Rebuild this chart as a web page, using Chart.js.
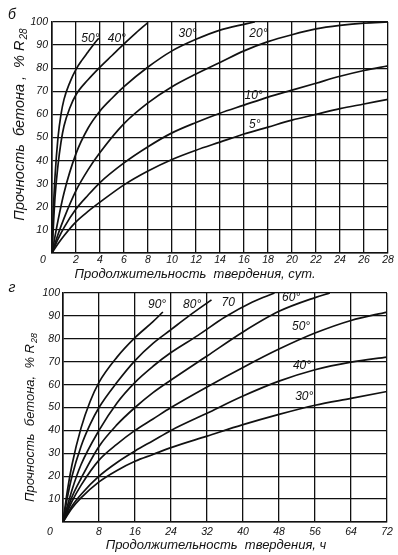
<!DOCTYPE html>
<html>
<head>
<meta charset="utf-8">
<script src="https://cdn.jsdelivr.net/npm/chart.js@4.4.1/dist/chart.umd.min.js"></script>
<style>
  html, body { margin: 0; padding: 0; background: #fff; }
  #wrap { position: relative; width: 398px; height: 555px; overflow: hidden; background: #fff; }
  canvas { position: absolute; left: 0; }
  #topChart { top: 0; }
  #bottomChart { top: 280px; }
</style>
</head>
<body>
<div id="wrap">
  <canvas id="topChart" width="398" height="280"></canvas>
  <canvas id="bottomChart" width="398" height="275"></canvas>
</div>
<script>
// Strength of concrete vs. curing time at different temperatures

// ---- top chart (б): curing time in days ----
const days50 = [0, 0.1, 0.25, 0.5, 0.75, 1, 1.5, 2, 2.5, 3, 3.5, 3.9];
const str50  = [0, 17, 33, 50, 60, 66.5, 74, 79.5, 83.5, 87, 90.5, 93];
const days40 = [0, 0.25, 0.5, 0.75, 1, 1.5, 2, 3, 4, 5, 6, 7, 8];
const str40  = [0, 24, 38, 48, 55, 63, 68.5, 75, 80.5, 85.5, 90.5, 95.3, 99.8];
const days30 = [0, 0.5, 1, 2, 3, 4, 5, 6, 8, 10, 12, 14, 16, 16.9];
const str30  = [0, 14, 26, 43, 54, 61.5, 67, 72, 80.5, 87.5, 92.5, 96.5, 99, 100];
const days20 = [0, 0.5, 1, 2, 3, 4, 6, 8, 10, 12, 14, 16, 18, 20, 22, 24, 26, 28];
const str20  = [0, 8, 15, 27, 36, 43.5, 56, 65, 72, 77.5, 82.5, 87.5, 91.5, 94.5, 97, 98.5, 99.5, 100];
const days10 = [0, 0.5, 1, 2, 3, 4, 6, 8, 10, 12, 14, 16, 18, 20, 22, 24, 26, 28];
const str10  = [0, 6, 11, 19, 25, 30.5, 39, 46, 52, 56.5, 60.5, 64, 67.5, 70.5, 73.5, 76.5, 79, 81];
const days5  = [0, 0.5, 1, 2, 3, 4, 6, 8, 10, 12, 14, 16, 18, 20, 22, 24, 26, 28];
const str5   = [0, 4, 7.5, 13.5, 18, 22, 29.5, 35.5, 40.5, 44.5, 48, 51.5, 54.5, 57.5, 60, 62.5, 64.5, 66.5];

const topLabels = ['50°', '40°', '30°', '20°', '10°', '5°'];
const topLabelDays = [3.2, 5.4, 11.3, 17.2, 16.8, 16.9];
const topLabelStr  = [93, 93, 95, 95, 68, 55.4];

// ---- bottom chart (г): curing time in hours ----
const hours90 = [0, 1, 2, 4, 6, 8, 12, 16, 20, 22.2];
const str90   = [0, 14, 25, 41, 52.5, 61, 72, 80.5, 87.5, 91.7];
const hours80 = [0, 1, 2, 4, 6, 8, 12, 16, 20, 24, 28, 33];
const str80   = [0, 11, 20, 33, 42.5, 50, 61, 70.5, 78, 84, 90, 97];
const hours70 = [0, 2, 4, 8, 12, 16, 20, 24, 30, 36, 42, 47];
const str70   = [0, 14, 25, 40, 52, 61, 68, 74, 81.5, 89.5, 96, 100];
const hours60 = [0, 2, 4, 8, 12, 16, 20, 24, 32, 40, 48, 56, 59.3];
const str60   = [0, 11, 19, 33, 42.5, 50, 56.5, 62, 72.5, 83, 92, 98, 100];
const hours50 = [0, 2, 4, 8, 12, 16, 20, 24, 32, 40, 48, 56, 64, 72];
const str50h  = [0, 9, 16, 27, 34, 40, 45, 50, 59, 67.5, 75.5, 82.5, 88, 91.7];
const hours40 = [0, 2, 4, 8, 12, 16, 20, 24, 32, 40, 48, 56, 64, 72];
const str40h  = [0, 7, 12, 20, 26, 31, 35.5, 40, 47.5, 55, 61.5, 66.5, 69.8, 72];
const hours30 = [0, 2, 4, 8, 12, 16, 20, 24, 32, 40, 48, 56, 64, 72];
const str30h  = [0, 6, 10.5, 17.5, 22.5, 26.5, 29.5, 32.5, 37.5, 42.5, 47, 51, 54, 57];

const bottomLabels = ['90°', '80°', '70', '60°', '50°', '40°', '30°'];
const bottomLabelHours = [20.9, 28.7, 36.7, 50.7, 52.9, 53.1, 53.6];
const bottomLabelStr   = [94.8, 94.8, 95.6, 97.8, 85.2, 68.1, 54.6];

// ---- texts ----
const yTitleMain = 'Прочность  бетона ,  % R';
const yTitleMainB = 'Прочность  бетона,  % R';
const yTitleSub = '28';
const xTitleTop = 'Продолжительность  твердения, сут.';
const xTitleBottom = 'Продолжительность  твердения, ч';

const INK = '#111';
const FONT = '"Liberation Sans", "DejaVu Sans", sans-serif';

function toPoints(xs, ys) {
    return xs.map((x, i) => ({ x: x, y: ys[i] }));
}

function curve(xs, ys) {
    return {
        data: toPoints(xs, ys),
        borderColor: INK,
        borderWidth: 1.7,
        pointRadius: 0,
        fill: false,
        cubicInterpolationMode: 'monotone'
    };
}

// Draws curve labels, the corner zero, axis titles and panel letter
function sketchText(cfg) {
    return {
        id: 'sketchText',
        afterDraw(chart) {
            const ctx = chart.ctx;
            const xs = chart.scales.x;
            const ys = chart.scales.y;
            ctx.save();
            ctx.fillStyle = INK;

            // curve labels
            ctx.font = 'italic 12px ' + FONT;
            ctx.textAlign = 'center';
            ctx.textBaseline = 'middle';
            cfg.labels.forEach((t, i) => {
                ctx.fillText(t, xs.getPixelForValue(cfg.labelX[i]), ys.getPixelForValue(cfg.labelY[i]));
            });

            // shared zero in the corner
            ctx.font = 'italic 10.5px ' + FONT;
            ctx.fillText('0', xs.getPixelForValue(0) + cfg.zero[0], ys.getPixelForValue(0) + cfg.zero[1]);

            // x title
            ctx.font = 'italic 13px ' + FONT;
            ctx.fillText(cfg.xTitle, cfg.xTitlePos[0], cfg.xTitlePos[1]);

            // y title, rotated, with subscript
            const big = 'italic ' + cfg.yTitleSize + 'px ' + FONT;
            const small = 'italic ' + Math.round(cfg.yTitleSize * 0.7) + 'px ' + FONT;
            ctx.translate(cfg.yTitlePos[0], cfg.yTitlePos[1]);
            ctx.rotate(-Math.PI / 2);
            ctx.font = big;
            const w1 = ctx.measureText(cfg.yTitle).width;
            ctx.font = small;
            const w2 = ctx.measureText(yTitleSub).width;
            const start = -(w1 + w2) / 2;
            ctx.textAlign = 'left';
            ctx.font = big;
            ctx.fillText(cfg.yTitle, start, 0);
            ctx.font = small;
            ctx.fillText(yTitleSub, start + w1 + 1, 4);
            ctx.setTransform(1, 0, 0, 1, 0, 0);

            // panel letter
            ctx.font = 'italic 14px ' + FONT;
            ctx.textAlign = 'center';
            ctx.fillText(cfg.letter, cfg.letterPos[0], cfg.letterPos[1]);
            ctx.restore();
        }
    };
}

function makeChart(id, datasets, xMax, xStep, box, text) {
    const ctx = document.getElementById(id).getContext('2d');
    return new Chart(ctx, {
        type: 'line',
        data: { datasets: datasets },
        options: {
            responsive: false,
            animation: false,
            devicePixelRatio: 1,
            layout: { padding: { left: 0, right: box.right, top: box.top, bottom: 0 } },
            plugins: { legend: { display: false }, tooltip: { enabled: false } },
            events: [],
            scales: {
                x: {
                    type: 'linear',
                    min: 0,
                    max: xMax,
                    afterFit: function(scale) { scale.height = box.xHeight; },
                    grid: { color: INK, lineWidth: 1.3, drawTicks: false },
                    border: { color: INK, width: 1.6 },
                    ticks: {
                        stepSize: xStep,
                        autoSkip: false,
                        maxRotation: 0,
                        padding: box.xPad,
                        color: INK,
                        font: { family: FONT, size: 10.5, style: 'italic' },
                        callback: v => v === 0 ? '' : v
                    }
                },
                y: {
                    min: 0,
                    max: 100,
                    afterFit: function(scale) { scale.width = box.yWidth; },
                    grid: { color: INK, lineWidth: 1.3, drawTicks: false },
                    border: { color: INK, width: 1.6 },
                    ticks: {
                        stepSize: 10,
                        padding: box.yPad,
                        color: INK,
                        font: { family: FONT, size: 10.5, style: 'italic' },
                        callback: v => v === 0 ? '' : v
                    }
                }
            }
        },
        plugins: [sketchText(text)]
    });
}

makeChart('topChart', [
    curve(days50, str50), curve(days40, str40), curve(days30, str30),
    curve(days20, str20), curve(days10, str10), curve(days5, str5)
], 28, 2,
{ right: 10, top: 22, xHeight: 27, yWidth: 52, xPad: 1, yPad: 4 },
{
    labels: topLabels, labelX: topLabelDays, labelY: topLabelStr,
    zero: [-9, 7],
    xTitle: xTitleTop, xTitlePos: [195, 274],
    yTitle: yTitleMain, yTitlePos: [20, 125], yTitleSize: 14.5,
    letter: 'б', letterPos: [12, 15]
});

makeChart('bottomChart', [
    curve(hours90, str90), curve(hours80, str80), curve(hours70, str70),
    curve(hours60, str60), curve(hours50, str50h), curve(hours40, str40h),
    curve(hours30, str30h)
], 72, 8,
{ right: 11, top: 13, xHeight: 33, yWidth: 63, xPad: 4, yPad: 3 },
{
    labels: bottomLabels, labelX: bottomLabelHours, labelY: bottomLabelStr,
    zero: [-13, 10],
    xTitle: xTitleBottom, xTitlePos: [216, 265],
    yTitle: yTitleMainB, yTitlePos: [30, 138], yTitleSize: 13,
    letter: 'г', letterPos: [12, 8]
});
</script>
</body>
</html>
